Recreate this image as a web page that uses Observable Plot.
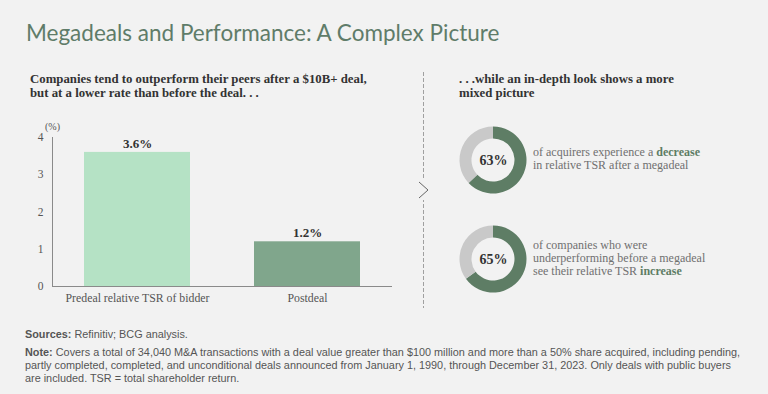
<!DOCTYPE html>
<html><head><meta charset="utf-8">
<script src="https://cdn.jsdelivr.net/npm/d3@7"></script>
<script src="https://cdn.jsdelivr.net/npm/@observablehq/plot@0.6"></script>
<style>
html,body{margin:0;padding:0}
body{background:#f2f2f2;width:768px;height:394px;overflow:hidden;position:relative;font-family:"Liberation Serif","DejaVu Serif",serif}
.abs{position:absolute;white-space:nowrap}
#title{left:26px;top:19px;font-family:Lato,"Open Sans",sans-serif;font-size:22.5px;color:#5f7c69;font-weight:400;line-height:27px}
.sub{font-weight:bold;font-size:12.8px;color:#333;line-height:14px}
#subL{left:30px;top:72px}
#subR{left:459px;top:72px}
.dtext{left:533px;font-size:12px;color:#707070;line-height:13px}
.dtext b{color:#5e7d65;font-weight:bold}
#d1t{top:146px}
#d2t{top:239px}
#foot{left:25px;top:328px;font-family:"Liberation Sans","DejaVu Sans",sans-serif;font-size:11.5px;color:#555;line-height:13px;transform-origin:0 0}
#foot b{font-weight:bold}
#bar{left:0;top:110px}
#donut1{left:453px;top:120px}
#donut2{left:453px;top:219px}
#deco{left:0;top:0}
</style></head>
<body>
<div class="abs" id="title">Megadeals and Performance: A Complex Picture</div>
<div class="abs sub" id="subL">Companies tend to outperform their peers after a $10B+ deal,<br>but at a lower rate than before the deal. . .</div>
<div class="abs sub" id="subR">. . .while an in-depth look shows a more<br>mixed picture</div>
<svg class="abs" id="deco" width="768" height="394">
  <line x1="423.5" y1="72" x2="423.5" y2="308" stroke="#a0a0a0" stroke-dasharray="4,2" stroke-width="1"/>
  <rect x="419" y="180" width="10" height="20" fill="#f2f2f2"/>
  <polyline points="419,182 428,190 419,198" fill="none" stroke="#666" stroke-width="1"/>
</svg>
<div class="abs" id="bar"></div>
<div class="abs" id="donut1"></div>
<div class="abs" id="donut2"></div>
<div class="abs dtext" id="d1t">of acquirers experience a <b>decrease</b><br>in relative TSR after a megadeal</div>
<div class="abs dtext" id="d2t">of companies who were<br>underperforming before a megadeal<br>see their relative TSR <b>increase</b></div>
<div class="abs" id="foot"><b>Sources:</b> Refinitiv; BCG analysis.<br><div style="height:5px"></div><b>Note:</b> Covers a total of 34,040 M&amp;A transactions with a deal value greater than $100 million and more than a 50% share acquired, including pending,<br>partly completed, completed, and unconditional deals announced from January 1, 1990, through December 31, 2023. Only deals with public buyers<br>are included. TSR = total shareholder return.</div>
<script>
const categories = ["Predeal relative TSR of bidder", "Postdeal"];
const values = [3.6, 1.2];
const valueLabels = ["3.6%", "1.2%"];
const barColors = ["#b5e2c5", "#80a68c"];
const yTicks = [0, 1, 2, 3, 4];
const donutValues = [63, 65];
const donutLabels = ["63%", "65%"];
const donutColors = ["#5e7d65", "#c9c9c9"];

const barData = categories.map((c, i) => ({cat: c, value: values[i], label: valueLabels[i], color: barColors[i]}));

const bar = Plot.plot({
  width: 400, height: 200,
  marginLeft: 52, marginRight: 8, marginTop: 27, marginBottom: 24,
  style: {background: "transparent", fontFamily: "Liberation Serif, serif", color: "#555", overflow: "visible"},
  x: {domain: categories, padding: 0},
  y: {domain: [0, 4]},
  marks: [
    Plot.barY(barData, {x: "cat", y: "value", fill: "color", insetLeft: 32, insetRight: 32}),
    Plot.frame({anchor: "left", stroke: "#8a8a8a"}),
    Plot.ruleY([0], {stroke: "#8a8a8a"}),
    Plot.axisX({tickSize: 0, tickPadding: 7, fontSize: 11.8, label: null, fill: "#555"}),
    Plot.axisY({ticks: yTicks, tickFormat: d => String(d), tickSize: 0, tickPadding: 9, fontSize: 11.5, label: null, fill: "#555"}),
    Plot.text(barData, {x: "cat", y: "value", text: "label", dy: -9, fontWeight: "bold", fontSize: 13, fill: "#333"}),
    Plot.text(["(%)"], {frameAnchor: "top-left", dy: -15, textAnchor: "middle", fontSize: 10, fill: "#555"})
  ]
});
document.getElementById("bar").appendChild(bar);

function donut(value, label) {
  const parts = [{v: value, c: donutColors[0]}, {v: 100 - value, c: donutColors[1]}];
  const ring = (index, scales, vals, dims) => {
    const cx = dims.width / 2, cy = dims.height / 2;
    const arcs = d3.pie().sort(null).value(d => d.v)(parts);
    const arc = d3.arc().innerRadius(21.5).outerRadius(33.5);
    const g = d3.create("svg:g").attr("transform", `translate(${cx},${cy})`);
    g.selectAll("path").data(arcs).join("path").attr("d", arc).attr("fill", d => d.data.c);
    return g.node();
  };
  return Plot.plot({
    width: 80, height: 80, margin: 0, axis: null,
    style: {background: "transparent", fontFamily: "Liberation Serif, serif"},
    marks: [
      ring,
      Plot.text([label], {frameAnchor: "middle", fontWeight: "bold", fontSize: 14, fill: "#333"})
    ]
  });
}
document.getElementById("donut1").appendChild(donut(donutValues[0], donutLabels[0]));
document.getElementById("donut2").appendChild(donut(donutValues[1], donutLabels[1]));

const foot = document.getElementById("foot");
const fw = foot.getBoundingClientRect().width;
foot.style.transform = `scaleX(${715 / fw})`;
</script>
</body></html>
